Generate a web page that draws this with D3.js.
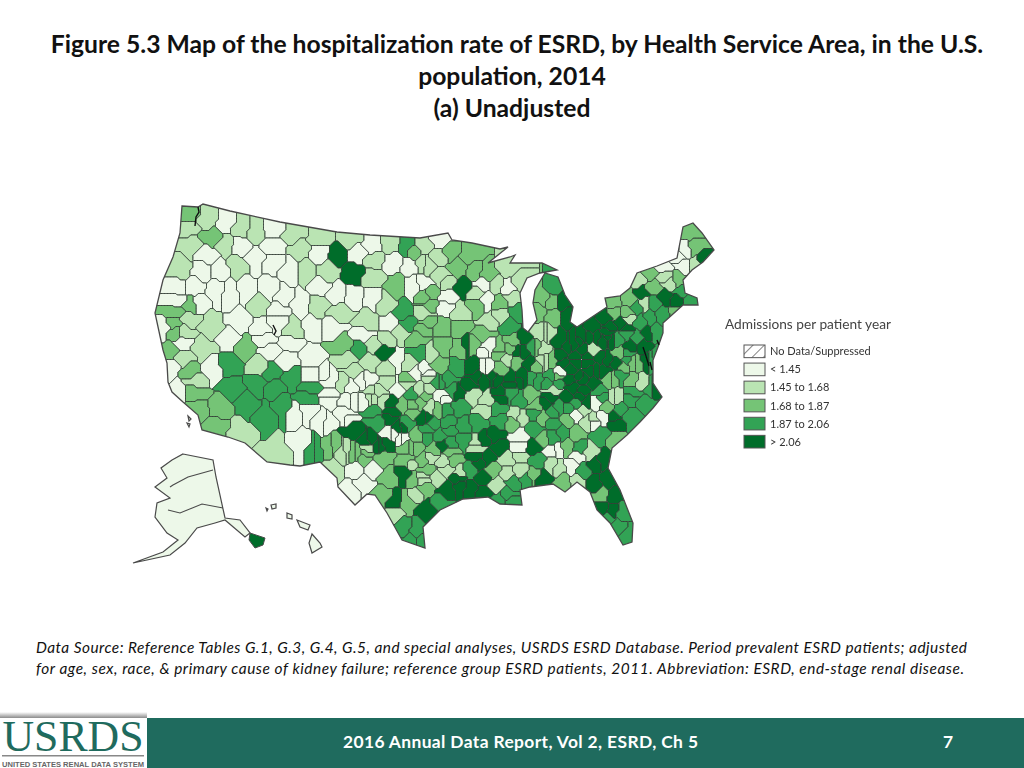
<!DOCTYPE html>
<html>
<head>
<meta charset="utf-8">
<title>Figure 5.3</title>
<script src="https://cdn.jsdelivr.net/npm/d3@7"></script>
<style>
  html, body { margin: 0; padding: 0; background: #fff; }
  svg { display: block; }
</style>
</head>
<body>
<div id="chart"></div>
<script>
// Text
const titleLines = [
  "Figure 5.3 Map of the hospitalization rate of ESRD, by Health Service Area, in the U.S.",
  "population, 2014",
  "(a) Unadjusted"
];
const noteLines = [
  "Data Source: Reference Tables G.1, G.3, G.4, G.5, and special analyses, USRDS ESRD Database. Period prevalent ESRD patients; adjusted",
  "for age, sex, race, & primary cause of kidney failure; reference group ESRD patients, 2011. Abbreviation: ESRD, end-stage renal disease."
];
const footerText = "2016 Annual Data Report, Vol 2, ESRD, Ch 5";
const pageNumber = "7";
const legendTitle = "Admissions per patient year";
const legendLabels = ["No Data/Suppressed", "< 1.45", "1.45 to 1.68", "1.68 to 1.87", "1.87 to 2.06", "> 2.06"];
const binColors = ["#edf8e9", "#bae4b3", "#74c476", "#31a354", "#006d2c"];

// Map geometry, already in Albers map units (like the us-atlas pre-projected files)
const usOutline = [[52,16],[68,17],[73,14],[100,21],[150,32],[207,42],[240,45],[290,48],[318,43],[322,50],[342,53],[370,59],[378,57],
  [358,73],[380,67],[385,65],[380,73],[412,73],[427,80],[410,83],[397,88],[390,103],[392,120],[393,138],[398,142],[407,130],[403,113],[405,100],[415,83],
  [428,87],[435,105],[443,117],[440,132],[447,137],[477,117],[475,108],[490,106],[500,98],[507,83],[527,76],[547,68],[553,37],[563,33],[572,43],[584,60],
  [573,72],[562,80],[553,90],[555,103],[567,108],[568,115],[553,115],[533,133],[533,143],[528,157],[523,170],[523,193],[532,207],[523,218],[510,232],
  [497,245],[482,258],[478,278],[490,300],[503,333],[502,352],[493,355],[480,333],[467,320],[460,302],[447,292],[435,302],[423,294],[400,297],[390,300],
  [392,315],[370,314],[358,307],[333,309],[310,320],[293,337],[295,358],[272,350],[257,323],[245,305],[237,304],[225,315],[208,297],[207,288],[190,272],
  [170,276],[160,275],[137,272],[115,253],[98,247],[72,240],[68,225],[53,212],[42,202],[38,192],[37,173],[33,160],[25,123],[33,90],[43,67],[50,43]];
const alaskaOutline = [[53,264],[83,270],[86,287],[95,328],[110,330],[120,343],[115,347],[95,330],[85,333],[67,338],[55,353],[40,365],[3,373],[33,362],
  [48,350],[37,343],[25,327],[27,313],[40,308],[25,297],[37,288],[31,278],[42,270]];
const alaskaLines = [[[40,297],[43,295],[58,287],[83,280]], [[38,320],[50,323],[72,314],[93,318]]];
const panhandleDark = [[120,343],[135,348],[133,355],[125,358],[119,350]];
const hawaiiIslands = [
  [[182,344],[190,353],[192,357],[182,363],[179,353]],
  [[167,330],[180,335],[178,340],[170,337]],
  [[157,323],[162,325],[162,329],[157,328]],
  [[141,315],[146,314],[146,318],[142,319]],
  [[136,318],[138,319],[137,321]]
];
const channelIslands = [[[58,226],[61,229],[59,231]], [[57,233],[60,234],[59,237]]];
const darkWater = [[[68,17],[69,22],[66,27],[65,36]], [[143,135],[146,141],[144,145]], [[513,157],[516,166],[519,176]], [[527,150],[529,155]], [[520,172],[522,180]]];

// Health Service Areas: [x, y, bin], by region, bin
const northwestHsa = [[58,25,2],[57,38,1],[78,30,1],[95,33,0],[82,47,2],[112,38,1],[125,42,1],[60,55,1],[95,55,1],[77,65,0],[110,57,0],
  [50,78,1],[73,80,0],[90,80,0],[107,75,1],[125,68,0],[65,98,0],[47,98,0],[87,100,0],[45,110,0],[67,112,0],[100,103,0],[115,100,0]];
const rockiesHsa = [[143,40,0],[143,57,0],[143,72,0],[163,45,1],[190,50,1],[170,58,1],[190,62,0],[220,50,1],[208,63,4],[227,63,0],[224,83,4],[197,82,1],
  [175,82,1],[160,82,0],[140,100,0],[153,107,0],[130,115,1],[147,120,0],[170,113,0],[188,115,1],[190,97,0],[207,105,0],[223,107,0],[210,122,1],
  [132,138,0],[147,133,0],[140,160,0],[135,150,0],[160,153,0],[130,177,1],[158,170,0],[180,167,0],[182,138,0],[203,138,0],[163,140,1]];
const dakotasHsa = [[242,55,0],[245,70,1],[260,53,1],[263,73,0],[278,55,3],[283,60,2],[293,55,1],[243,88,1],[267,95,2],[283,95,0],[293,75,1],[280,77,0],
  [243,108,0],[238,132,1],[260,133,0],[273,123,3],[278,133,3],[255,115,1],[293,123,1],[293,138,2],[295,107,2],[213,155,2],[230,158,3],[255,162,4],
  [242,155,1],[233,145,0],[217,170,1],[240,172,1],[258,150,1],[270,143,1],[287,150,2],[290,163,3],[267,170,0],[257,178,1],[280,173,1],[293,180,0],[277,192,2]];
const californiaHsa = [[43,122,2],[63,115,2],[43,133,2],[60,130,1],[45,143,2],[33,137,0],[55,143,1],[80,137,1],[72,157,1],[110,133,0],[100,148,0],[115,157,2],
  [40,162,2],[53,167,1],[53,153,0],[40,177,0],[60,182,2],[67,190,1],[82,180,0],[100,175,3],[47,203,0],[65,203,2],[67,218,2],[90,217,2],[87,238,2]];
const southwestHsa = [[233,192,0],[213,193,1],[200,190,0],[180,187,0],[163,187,3],[140,183,3],[128,193,3],[180,197,3],[143,197,3],[110,242,1],[102,198,3],
  [117,215,3],[135,227,3],[153,217,3],[165,223,0],[177,208,3],[147,262,1],[172,253,0],[183,260,3],[203,255,2],[217,260,1],[227,263,2],[177,220,0],[197,232,0],
  [215,225,0],[200,208,0],[217,210,0],[233,210,0],[223,240,4],[243,223,3],[262,223,4],[270,238,4],[263,245,0],[272,248,0],[240,250,4],[248,257,4],[257,253,4],
  [238,258,1],[233,268,2],[203,280,1],[227,280,0],[242,280,0],[233,293,0],[220,302,0]];
const texasHsa = [[258,288,2],[275,283,4],[253,267,2],[277,270,2],[287,258,2],[293,270,2],[283,290,2],[293,287,1],[277,313,2],[265,312,4],[253,305,2],[265,323,1],
  [297,320,4],[273,337,3],[287,340,3],[280,352,3],[292,352,3],[285,305,1],[295,298,2],[283,223,2],[293,228,4],[277,232,3],[297,240,3],[287,247,2],[277,257,2],
  [253,208,1],[242,207,1],[262,212,4],[267,200,0],[282,205,3],[250,202,1],[240,202,1],[290,200,1],[273,215,2],[290,213,2],[295,205,2],[257,193,1],[277,193,1]];
const upperMidwestHsa = [[310,50,0],[320,62,2],[340,65,2],[328,78,2],[345,80,2],[358,83,2],[377,77,1],[390,92,1],[297,77,1],[310,67,1],[310,85,1],[332,97,4],
  [293,93,0],[300,103,2],[318,107,0],[317,92,1],[347,103,1],[353,95,0],[367,95,1],[378,98,0],[357,110,0],[347,115,2],[368,113,2],[383,107,1],[315,117,0],
  [330,123,1],[300,115,2],[297,133,2],[313,137,2],[330,137,2],[353,143,2],[370,125,1],[388,123,3],[380,137,3],[360,133,1],[393,147,4],[383,150,2]];
const greatLakesHsa = [[408,123,2],[413,107,2],[423,97,3],[422,112,2],[433,112,4],[437,127,4],[423,127,2],[410,143,1],[418,143,1],[430,150,4],[403,158,3],[393,163,4],
  [412,160,1],[415,170,1],[430,167,4],[443,153,4],[453,147,4],[463,137,4],[475,128,4],[453,160,4],[463,160,1],[447,167,4],[470,167,4],[477,170,4],[457,173,4],
  [467,180,4],[440,180,4],[430,182,0],[453,190,4],[428,193,3],[417,193,3],[405,177,2],[407,190,3],[393,187,4],[380,190,4],[370,180,2],[367,190,4],[353,190,4],
  [343,177,4],[355,177,0],[358,157,0],[342,155,2],[370,160,2],[380,160,2],[387,170,2],[327,177,3],[330,160,2],[313,157,2],[300,163,1],[298,187,1],[310,175,2],
  [318,190,3],[337,155,4]];
const northeastHsa = [[483,112,2],[485,123,2],[500,110,2],[508,90,1],[520,83,2],[523,98,2],[512,103,4],[515,113,1],[535,87,1],[540,93,1],[548,90,2],[553,75,0],
  [563,57,2],[560,42,2],[548,68,0],[557,60,0],[567,75,1],[573,70,4],[533,77,0],[552,102,3],[547,110,4],[560,110,3],[535,107,4],[523,113,3],[497,123,2],[507,117,3],
  [500,128,1],[510,132,3],[520,127,3],[532,125,3],[547,123,2],[525,142,3],[517,143,4],[507,147,3],[490,133,4],[480,137,4],[467,147,4],[477,147,4],[487,150,3],
  [497,140,4],[500,157,4],[490,163,2],[513,157,4],[527,167,3],[517,170,4],[503,173,2],[497,170,3],[490,185,3],[480,190,2],[503,190,2]];
const southCentralHsa = [[298,200,1],[310,205,0],[343,205,1],[355,220,1],[340,195,4],[323,200,3],[310,193,3],[370,207,4],[367,220,3],[300,218,1],[315,220,3],[330,217,3],
  [297,247,3],[310,247,3],[320,262,2],[303,260,2],[333,250,3],[320,253,3],[333,237,3],[348,233,3],[317,233,3],[303,233,3],[297,228,4],[353,250,4],[347,258,1],
  [307,288,1],[330,283,1],[340,280,3],[315,272,1],[300,267,1],[323,270,2],[293,290,1],[347,268,4],[357,268,4],[363,280,2],[365,245,4],[370,230,3],[370,257,4],
  [353,303,4],[340,300,4],[353,287,4],[330,297,4],[317,300,4],[310,313,3],[377,305,3],[382,312,3],[370,310,3]];
const southeastHsa = [[387,225,1],[400,205,2],[415,213,4],[423,200,1],[437,207,4],[453,200,4],[470,202,3],[487,207,1],[503,203,3],[517,213,3],[523,200,4],[465,213,0],
  [453,220,1],[447,225,0],[463,232,0],[473,227,0],[457,232,1],[487,233,4],[500,227,3],[487,250,2],[470,245,3],[447,243,2],[437,230,2],[423,233,3],[413,227,2],
  [405,240,3],[390,247,0],[390,257,0],[383,233,2],[403,258,4],[413,248,2],[423,262,0],[423,273,1],[407,270,3],[403,285,2],[377,270,1],[390,267,1],[390,280,1],
  [377,283,1],[367,295,1],[383,293,3],[397,290,3],[413,290,4],[433,293,2],[447,292,1],[428,277,1],[442,275,0],[448,267,0],[437,257,2],[450,258,3],[460,262,1],
  [380,202,3],[390,210,3],[405,223,3],[423,223,3],[437,218,3],[447,213,3],[477,217,2],[490,220,3],[433,243,3],[423,247,3],[427,260,0]];
const floridaHsa = [[465,275,4],[473,270,4],[453,280,3],[465,293,4],[477,290,4],[473,305,2],[483,307,4],[473,318,4],[483,320,4],[492,322,3],[477,330,3],[487,337,3],[498,347,3]];
// Finer reading of the Ohio valley and the southern plains
const ohioValleyHsa = [[363,187,4],[380,193,4],[370,203,4],[390,190,4],[403,187,3],[422,187,3],[433,173,4],[447,173,4],[457,167,4],[470,167,4],[460,180,4],[473,180,4],
  [450,187,4],[463,193,4],[443,197,4],[450,207,4],[473,150,4],[450,150,4],[438,155,4],[460,147,4],[483,150,4],[477,143,4],[497,143,3],[497,163,3],[493,177,2],[483,190,2],
  [487,173,4],[507,173,2],[510,193,1],[483,207,1],[500,207,3],[520,170,3],[522,200,3],[417,143,1],[413,170,1],[407,157,2],[400,173,4],[423,170,2],[387,163,4],
  [370,163,2],[355,160,0],[377,168,1],[400,205,2],[390,227,1],[420,207,4],[427,187,2],[440,190,4],[407,217,2],[430,217,3],[453,220,1],[463,230,1],[457,213,4],
  [473,207,3],[485,227,4],[357,210,1]];
const southernPlainsHsa = [[197,187,0],[220,197,0],[237,190,0],[223,180,1],[200,207,0],[223,210,0],[193,230,0],[217,227,0],[247,230,3],[260,227,4],[240,207,1],[272,237,4],
  [260,245,0],[270,248,0],[250,257,4],[237,252,4],[213,263,1],[200,257,2],[185,260,3],[223,262,2],[235,263,2],[280,257,2],[283,215,2],[308,220,2],[327,203,4],[347,187,4],
  [357,177,0],[313,208,0],[308,193,3],[287,183,0],[297,185,0],[320,240,3],[313,255,4],[347,253,1],[350,273,4],[327,287,4],[317,280,1],[297,280,2],[280,273,1]];

const hsaSites = [].concat(northwestHsa, rockiesHsa, dakotasHsa, californiaHsa, southwestHsa, texasHsa,
  upperMidwestHsa, greatLakesHsa, northeastHsa, southCentralHsa, southeastHsa, floridaHsa, ohioValleyHsa, southernPlainsHsa);

const width = 1024, height = 768;
const svg = d3.select("#chart").append("svg").attr("width", width).attr("height", height);
const defs = svg.append("defs");

const binColor = d3.scaleOrdinal().domain(d3.range(binColors.length)).range(binColors);
const polygon = pts => ({type: "Polygon", coordinates: [pts.concat([pts[0]])]});

// The reference is a soft raster, a small blur keeps the map close to it
defs.append("filter").attr("id", "soft").attr("x", "-5%").attr("y", "-5%").attr("width", "110%").attr("height", "110%")
  .append("feGaussianBlur").attr("stdDeviation", 0.45);
const hatch = defs.append("pattern").attr("id", "hatch").attr("patternUnits", "userSpaceOnUse")
  .attr("width", 8).attr("height", 8).attr("patternTransform", "rotate(45)");
hatch.append("rect").attr("width", 8).attr("height", 8).attr("fill", "#fff");
hatch.append("line").attr("x1", 0).attr("x2", 0).attr("y1", 0).attr("y2", 8).attr("stroke", "#666").attr("stroke-width", 1.6);

// Map: planar coordinates, placed on the page by the projection
const projection = d3.geoIdentity().translate([130, 190]);
const path = d3.geoPath(projection);

defs.append("clipPath").attr("id", "us-clip").append("path").attr("d", path(polygon(usOutline)));

const map = svg.append("g").attr("filter", "url(#soft)");

// Cells: nearest site by city-block distance, HSA borders are blocky and not straight Voronoi edges
const step = 1.5, gridW = Math.ceil(600 / step), gridH = Math.ceil(370 / step);
const owner = new Int16Array(gridW * gridH);
for (let gy = 0; gy < gridH; gy++) {
  for (let gx = 0; gx < gridW; gx++) {
    let best = 1e9, who = 0;
    const mx = (gx + 0.5) * step, my = (gy + 0.5) * step;
    for (let s = 0; s < hsaSites.length; s++) {
      const dd = Math.abs(mx - hsaSites[s][0]) + Math.abs(my - hsaSites[s][1]);
      if (dd < best) { best = dd; who = s; }
    }
    owner[gy * gridW + gx] = who;
  }
}
const contour = d3.contours().size([gridW, gridH]).smooth(false).thresholds([0.5]);
const gridPath = d3.geoPath(d3.geoIdentity().scale(step).translate([130, 190]));
const cells = hsaSites.map((d, s) => contour(Array.from(owner, o => o == s ? 1 : 0))[0]);

map.append("g").attr("clip-path", "url(#us-clip)")
  .selectAll("path")
  .data(hsaSites)
  .join("path")
  .attr("d", (d, i) => gridPath(cells[i]))
  .attr("fill", d => binColor(d[2]))
  .attr("stroke", "#334036")
  .attr("stroke-width", 0.9);

map.append("path").attr("d", path(polygon(usOutline)))
  .attr("fill", "none").attr("stroke", "#4a4a4a").attr("stroke-width", 1.3);

map.append("path").attr("d", path({type: "MultiLineString", coordinates: darkWater}))
  .attr("fill", "none").attr("stroke", "#111").attr("stroke-width", 1.4);

// Alaska, Hawaii, Channel Islands
const insets = [alaskaOutline].concat(hawaiiIslands, channelIslands);
map.append("g").selectAll("path")
  .data(insets)
  .join("path")
  .attr("d", d => path(polygon(d)))
  .attr("fill", binColor(0))
  .attr("stroke", "#4a4a4a")
  .attr("stroke-width", 1.2);
map.append("path").attr("d", path({type: "MultiLineString", coordinates: alaskaLines}))
  .attr("fill", "none").attr("stroke", "#4a4a4a").attr("stroke-width", 1.1);
map.append("path").attr("d", path(polygon(panhandleDark)))
  .attr("fill", binColor(4)).attr("stroke", "#4a4a4a").attr("stroke-width", 1);

// Title
svg.append("g").selectAll("text")
  .data(titleLines)
  .join("text")
  .attr("x", (d, i) => i == 0 ? 517 : 512)
  .attr("y", (d, i) => 53 + i * 32)
  .attr("text-anchor", "middle")
  .attr("font-family", "Lato, sans-serif")
  .attr("font-weight", 700)
  .attr("font-size", 24.7)
  .attr("fill", "#111")
  .text(d => d);

// Legend
const legendY = d3.scaleBand().domain(legendLabels).range([345, 448]).paddingInner(0.3);
const legend = svg.append("g").attr("filter", "url(#soft)");
legend.append("text").attr("x", 725).attr("y", 329)
  .attr("font-family", "Lato, sans-serif").attr("font-size", 13.7).attr("fill", "#444")
  .text(legendTitle);
legend.selectAll("rect")
  .data(legendLabels)
  .join("rect")
  .attr("x", 744)
  .attr("y", d => legendY(d))
  .attr("width", 21)
  .attr("height", legendY.bandwidth())
  .attr("fill", (d, i) => i == 0 ? "url(#hatch)" : binColor(i - 1))
  .attr("stroke", "#555")
  .attr("stroke-width", 1);
legend.selectAll("text.item")
  .data(legendLabels)
  .join("text")
  .attr("class", "item")
  .attr("x", 770)
  .attr("y", d => legendY(d) + legendY.bandwidth() / 2 + 4)
  .attr("font-family", "Lato, sans-serif")
  .attr("font-size", 11)
  .attr("fill", "#333")
  .text(d => d);

// Note under the map
svg.append("g").selectAll("text")
  .data(noteLines)
  .join("text")
  .attr("x", 36)
  .attr("y", (d, i) => 653 + i * 20.5)
  .attr("font-family", "Lato, sans-serif")
  .attr("font-style", "italic")
  .attr("font-size", 15.4)
  .attr("textLength", (d, i) => i == 0 ? 931 : 928)
  .attr("lengthAdjust", "spacing")
  .attr("fill", "#111")
  .text(d => d);

// Footer band and logo
const shadow = defs.append("linearGradient").attr("id", "logo-shadow").attr("x1", 0).attr("x2", 0).attr("y1", 0).attr("y2", 1);
shadow.append("stop").attr("offset", 0).attr("stop-color", "#fff");
shadow.append("stop").attr("offset", 1).attr("stop-color", "#8a8a8a");
svg.append("rect").attr("x", 0).attr("y", 712).attr("width", 147).attr("height", 6).attr("fill", "url(#logo-shadow)");
svg.append("rect").attr("x", 147).attr("y", 718).attr("width", width - 147).attr("height", 50).attr("fill", "#1f6b5e");
svg.append("text").attr("x", 73).attr("y", 751)
  .attr("text-anchor", "middle")
  .attr("font-family", "Liberation Serif, serif")
  .attr("font-size", 44)
  .attr("textLength", 141)
  .attr("lengthAdjust", "spacingAndGlyphs")
  .attr("fill", "#1f6b5e")
  .text("USRDS");
svg.append("rect").attr("x", 2).attr("y", 755).attr("width", 142).attr("height", 1.5).attr("fill", "#888");
svg.append("text").attr("x", 73).attr("y", 767)
  .attr("text-anchor", "middle")
  .attr("font-family", "Liberation Sans, sans-serif")
  .attr("font-weight", 700)
  .attr("font-size", 8)
  .attr("textLength", 142)
  .attr("lengthAdjust", "spacingAndGlyphs")
  .attr("fill", "#666")
  .text("UNITED STATES RENAL DATA SYSTEM");
svg.append("text").attr("x", 343).attr("y", 748)
  .attr("font-family", "Lato, sans-serif").attr("font-weight", 700).attr("font-size", 17.4)
  .attr("textLength", 355).attr("lengthAdjust", "spacing")
  .attr("fill", "#fff").text(footerText);
svg.append("text").attr("x", 948).attr("y", 748)
  .attr("text-anchor", "middle")
  .attr("font-family", "Lato, sans-serif").attr("font-weight", 700).attr("font-size", 17.4)
  .attr("fill", "#fff").text(pageNumber);
</script>
</body>
</html>
